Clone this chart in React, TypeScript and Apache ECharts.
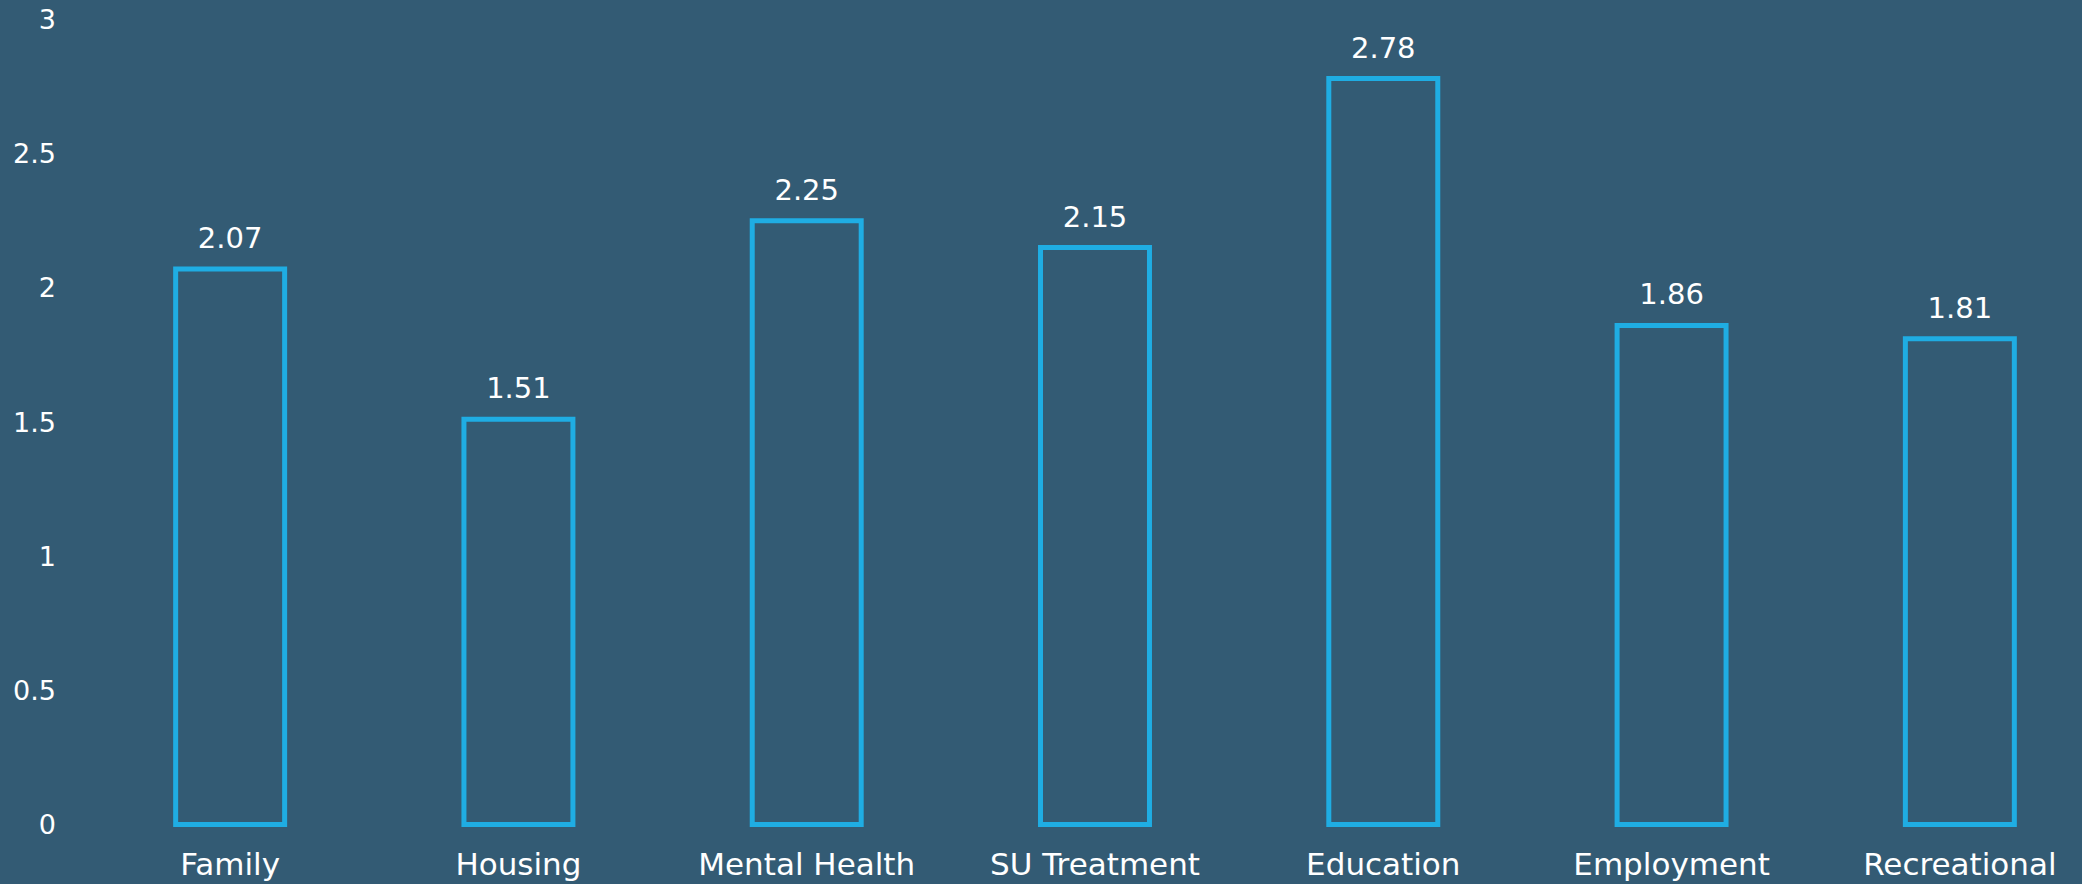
import React, { useEffect, useRef } from "react";
import * as echarts from "echarts";

const categories = ["Family", "Housing", "Mental Health", "SU Treatment", "Education", "Employment", "Recreational"];
const values = [2.07, 1.51, 2.25, 2.15, 2.78, 1.86, 1.81];
const yMin = 0;
const yMax = 3;
const yInterval = 0.5;

const BG = "#335b74";
const BAR = "#1fade3";
const FONT = "'DejaVu Sans', 'Noto Sans', sans-serif";
const BAR_RATIO = 0.378;

export default function App() {
  const ref = useRef<HTMLDivElement>(null);
  useEffect(() => {
    if (!ref.current) return;
    const chart = echarts.init(ref.current, null, { renderer: "svg" });
    chart.setOption({
      animation: false,
      backgroundColor: BG,
      grid: {
        left: 86,
        width: 2018,
        top: 19.5,
        bottom: 59.5,
        containLabel: false,
        outerBoundsMode: "none",
      },
      xAxis: {
        type: "category",
        data: categories,
        axisLine: { show: false },
        axisTick: { show: false },
        axisLabel: {
          color: "#ffffff",
          fontSize: 31,
          fontFamily: FONT,
          margin: 24,
          interval: 0,
        },
      },
      yAxis: {
        type: "value",
        min: yMin,
        max: yMax,
        interval: yInterval,
        splitLine: { show: false },
        axisLine: { show: false },
        axisTick: { show: false },
        axisLabel: {
          color: "#ffffff",
          fontSize: 27,
          fontFamily: FONT,
          margin: 30,
        },
      },
      series: [
        {
          type: "custom",
          data: values.map((v, i) => [i, v]),
          encode: { x: 0, y: 1 },
          renderItem: (params: any, api: any) => {
            const idx = api.value(0);
            const val = api.value(1);
            const top = api.coord([idx, val]);
            const base = api.coord([idx, 0]);
            const w = api.size([1, 0])[0] * BAR_RATIO;
            return {
              type: "rect",
              shape: { x: top[0] - w / 2, y: top[1], width: w, height: base[1] - top[1] },
              style: { fill: "none", stroke: BAR, lineWidth: 5 },
              textContent: {
                style: {
                  text: val.toFixed(2),
                  fill: "#ffffff",
                  fontSize: 29,
                  fontFamily: FONT,
                },
              },
              textConfig: { position: "top", distance: 14 },
            };
          },
        },
      ],
    });
    return () => chart.dispose();
  }, []);
  return (
    <div
      ref={ref}
      style={{ position: "absolute", left: 0, top: 0, width: 2082, height: 884, background: BG }}
    />
  );
}
